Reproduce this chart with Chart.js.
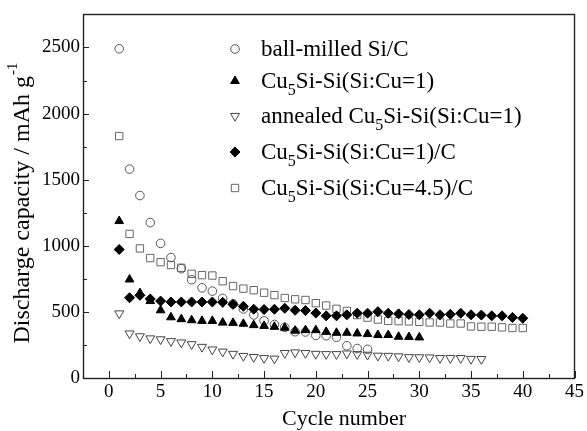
<!DOCTYPE html>
<html>
<head>
<meta charset="utf-8">
<script src="https://cdn.jsdelivr.net/npm/chart.js@4/dist/chart.umd.min.js"></script>
<style>
  html, body { margin: 0; padding: 0; background: #fff; }
  #wrap { width: 587px; height: 431px; }
</style>
</head>
<body>
<div id="wrap"><canvas id="chart" width="587" height="431"></canvas></div>
<script>
// cycle numbers (x) and discharge capacity per sample (mAh/g)
const cycles = [1, 2, 3, 4, 5, 6, 7, 8, 9, 10, 11, 12, 13, 14, 15, 16, 17, 18, 19, 20,
  21, 22, 23, 24, 25, 26, 27, 28, 29, 30, 31, 32, 33, 34, 35, 36, 37, 38, 39, 40];

const ballMilled = [2490, 1580, 1380, 1175, 1018, 911, 827, 743, 682, 657, 602, 560, 522, 477, 432,
  405, 383, 350, 348, 322, 320, 308, 244, 223, 217];
const cuSi = [1187, 745, 642, 582, 512, 459, 445, 437, 432, 432, 419, 417, 410, 400, 394,
  387, 380, 358, 362, 362, 349, 342, 342, 337, 332, 325, 325, 312, 310, 307];
const annealed = [488, 336, 315, 299, 292, 278, 268, 255, 235, 215, 199, 182, 166, 158, 150,
  146, 188, 193, 188, 182, 180, 180, 185, 180, 175, 168, 167, 163, 157, 156, 155, 150, 150, 150, 144, 143];
const cuSiC = [972, 607, 625, 598, 582, 575, 575, 575, 575, 575, 572, 557, 542, 520, 518,
  520, 527, 512, 510, 491, 470, 470, 478, 490, 490, 502, 490, 485, 480, 478,
  490, 478, 482, 490, 478, 476, 470, 470, 458, 452];
const cuSi45C = [1830, 1090, 980, 907, 876, 855, 834, 788, 778, 775, 732, 695, 676, 664, 645,
  627, 605, 595, 590, 566, 548, 523, 507, 476, 457, 442, 432, 430, 428, 425,
  420, 420, 412, 412, 390, 388, 388, 383, 378, 378];

// "_5" marks a subscript digit
const names = ['ball-milled Si/C', 'Cu_5Si-Si(Si:Cu=1)', 'annealed Cu_5Si-Si(Si:Cu=1)',
  'Cu_5Si-Si(Si:Cu=1)/C', 'Cu_5Si-Si(Si:Cu=4.5)/C'];
const xTitle = 'Cycle number';
const yTitle = 'Discharge capacity / mAh g';
const yTitleSup = '-1';

const serif = "'Liberation Serif', 'Times New Roman', serif";

function pts(vals) { return vals.map((v, i) => ({ x: cycles[i], y: v })); }

function drawRich(ctx, str, x, y, size) {
  // draw text with _N subscripts, baseline at y
  const parts = str.split(/_(\d)/);
  let cx = x;
  parts.forEach((p, i) => {
    if (!p) return;
    if (i % 2 === 1) {
      ctx.font = Math.round(size * 0.68) + 'px ' + serif;
      ctx.fillText(p, cx, y + size * 0.3);
    } else {
      ctx.font = size + 'px ' + serif;
      ctx.fillText(p, cx, y);
    }
    cx += ctx.measureText(p).width;
  });
}

const framePlugin = {
  id: 'frame',
  beforeDatasetsDraw(chart) {
    const { ctx, chartArea: a, scales } = chart;
    ctx.save();
    ctx.strokeStyle = '#222';
    ctx.lineWidth = 1;
    ctx.beginPath();
    scales.x.ticks.forEach(t => {
      const px = Math.round(scales.x.getPixelForValue(t.value)) + 0.5;
      const len = t.value % 5 === 0 ? 7 : 4;
      ctx.moveTo(px, a.bottom);
      ctx.lineTo(px, a.bottom - len);
    });
    scales.y.ticks.forEach(t => {
      const py = Math.round(scales.y.getPixelForValue(t.value)) + 0.5;
      const len = t.value % 500 === 0 ? 6 : 4;
      ctx.moveTo(a.left, py);
      ctx.lineTo(a.left + len, py);
    });
    ctx.stroke();
    ctx.lineWidth = 1.4;
    ctx.strokeRect(Math.round(a.left) + 0.5, Math.round(a.top) + 0.5,
      Math.round(a.right - a.left) - 1, Math.round(a.bottom - a.top));
    ctx.restore();
  },
  afterDraw(chart) {
    const { ctx } = chart;
    ctx.save();
    ctx.fillStyle = '#000';
    ctx.textBaseline = 'alphabetic';
    ctx.textAlign = 'left';

    // legend
    const rowY = [49, 81, 116, 152, 188];
    chart.data.datasets.forEach((ds, i) => {
      ctx.save();
      ctx.strokeStyle = ds.borderColor;
      ctx.fillStyle = ds.backgroundColor;
      ctx.lineWidth = ds.borderWidth;
      Chart.helpers.drawPoint(ctx, {
        pointStyle: ds.pointStyle, radius: ds.pointRadius,
        rotation: ds.pointRotation || 0, borderWidth: ds.borderWidth
      }, 235, rowY[i]);
      ctx.restore();
      drawRich(ctx, names[i], 261, rowY[i] + 7, 23);
    });

    // x title
    ctx.font = '22px ' + serif;
    ctx.textAlign = 'center';
    ctx.fillText(xTitle, 344, 425);

    // y title, rotated, with superscript
    ctx.textAlign = 'left';
    ctx.translate(29, 203);
    ctx.rotate(-Math.PI / 2);
    ctx.font = '24px ' + serif;
    const w1 = ctx.measureText(yTitle).width;
    ctx.font = '15px ' + serif;
    const w2 = ctx.measureText(yTitleSup).width;
    const x0 = -(w1 + w2 + 1) / 2;
    ctx.font = '24px ' + serif;
    ctx.fillText(yTitle, x0, 0);
    ctx.font = '15px ' + serif;
    ctx.fillText(yTitleSup, x0 + w1 + 1, -12);
    ctx.restore();
  }
};

const open = 'rgba(0,0,0,0)';

new Chart(document.getElementById('chart'), {
  type: 'scatter',
  data: {
    datasets: [
      { label: names[0], data: pts(ballMilled), pointStyle: 'circle', pointRadius: 4.3,
        borderColor: '#555', backgroundColor: open, borderWidth: 1, order: 3 },
      { label: names[1], data: pts(cuSi), pointStyle: 'triangle', pointRadius: 5,
        borderColor: '#000', backgroundColor: '#000', borderWidth: 1, order: 2 },
      { label: names[2], data: pts(annealed), pointStyle: 'triangle', pointRotation: 180, pointRadius: 5.2,
        borderColor: '#444', backgroundColor: open, borderWidth: 1, order: 5 },
      { label: names[3], data: pts(cuSiC), pointStyle: 'rectRot', pointRadius: 5,
        borderColor: '#000', backgroundColor: '#000', borderWidth: 1, order: 1 },
      { label: names[4], data: pts(cuSi45C), pointStyle: 'rect', pointRadius: 5.2,
        borderColor: '#666', backgroundColor: open, borderWidth: 1, order: 4 }
    ]
  },
  options: {
    responsive: false,
    animation: false,
    layout: { padding: { top: 11, right: 10, left: 0, bottom: 0 } },
    plugins: { legend: { display: false }, tooltip: { enabled: false } },
    scales: {
      x: {
        type: 'linear', min: -2.5, max: 45,
        grid: { display: false, drawTicks: false },
        border: { display: false },
        ticks: {
          stepSize: 2.5, autoSkip: false, maxRotation: 0, padding: 3,
          color: '#000', font: { family: serif, size: 19 },
          callback: v => (v % 5 === 0 ? v : '')
        },
        afterFit: s => { s.height = 53; }
      },
      y: {
        min: 0, max: 2750,
        grid: { display: false, drawTicks: false },
        border: { display: false },
        ticks: {
          stepSize: 250, autoSkip: false, padding: 3,
          color: '#000', font: { family: serif, size: 19 },
          callback: v => (v % 500 === 0 ? v : '')
        },
        afterFit: s => { s.width = 83; }
      }
    }
  },
  plugins: [framePlugin]
});
</script>
</body>
</html>
